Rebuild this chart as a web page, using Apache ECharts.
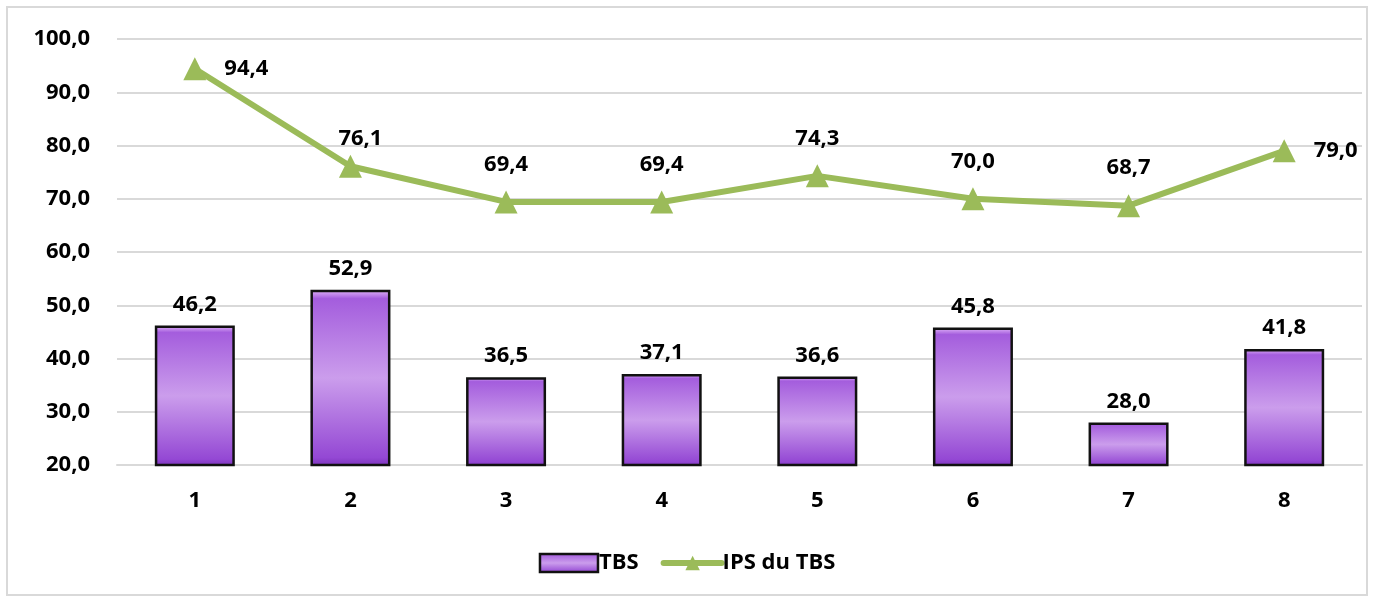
<!DOCTYPE html>
<html>
<head>
<meta charset="utf-8">
<script src="https://cdn.jsdelivr.net/npm/echarts@6/dist/echarts.min.js"></script>
<style>
    html, body { margin: 0; padding: 0; background: #fff; }
    .frame {
        position: absolute;
        left: 6px; top: 6px;
        width: 1362px; height: 590px;
        border: 2px solid #d9d9d9;
        box-sizing: border-box;
    }
    #chart { width: 1374px; height: 602px; }
</style>
</head>
<body>
<div class="frame"></div>
<div id="chart"></div>
<script>
// data
var categories = ['1', '2', '3', '4', '5', '6', '7', '8'];
var tbs = [46.2, 52.9, 36.5, 37.1, 36.6, 45.8, 28.0, 41.8];
var ipsTbs = [94.4, 76.1, 69.4, 69.4, 74.3, 70.0, 68.7, 79.0];

var fmt = function (v) { return v.toFixed(1).replace('.', ','); };
var font = '"Open Sans", Lato, sans-serif';
var green = '#9bbb59';
var fs = 22;

var myCharts = echarts.init(document.getElementById('chart'));
var option = {
    textStyle: { fontFamily: font, color: '#000' },
    animation: false,
    grid: { left: 117, right: 12, top: 39, bottom: 137 },
    legend: {
        bottom: 23,
        left: 'center',
        itemGap: 22,
        itemWidth: 58,
        itemHeight: 18,
        textStyle: { fontSize: fs, fontWeight: 'bold', color: '#000', fontFamily: font, padding: [0, 0, 0, -4] },
        data: [
            { name: 'TBS', icon: 'rect', itemStyle: { borderColor: '#111', borderWidth: 2.5 } },
            { name: 'IPS du TBS', lineStyle: { width: 6, color: green, cap: 'round' } }
        ]
    },
    xAxis: {
        type: 'category',
        data: categories,
        axisLine: { lineStyle: { color: '#d9d9d9', width: 2 } },
        axisTick: { show: false },
        axisLabel: { fontSize: fs, fontWeight: 'bold', color: '#000', margin: 25 }
    },
    yAxis: {
        type: 'value',
        min: 20, max: 100, interval: 10,
        axisLine: { show: false },
        axisTick: { show: false },
        splitLine: { lineStyle: { color: '#d9d9d9', width: 2 } },
        axisLabel: {
            fontSize: fs, fontWeight: 'bold', color: '#000', margin: 27,
            formatter: function (v) { return fmt(v); }
        }
    },
    series: [
        {
            name: 'TBS',
            type: 'bar',
            barWidth: 80,
            data: tbs,
            itemStyle: {
                borderColor: '#111',
                borderWidth: 2.5,
                color: new echarts.graphic.LinearGradient(0, 0, 0, 1, [
                    { offset: 0, color: '#e4b8fa' },
                    { offset: 0.05, color: '#a45ddd' },
                    { offset: 0.5, color: '#cb9dec' },
                    { offset: 0.95, color: '#9448d4' },
                    { offset: 1, color: '#7c34bc' }
                ])
            },
            label: {
                show: true,
                position: 'top',
                distance: 10,
                fontSize: fs,
                fontWeight: 'bold',
                color: '#000',
                formatter: function (p) { return fmt(p.value); }
            }
        },
        {
            name: 'IPS du TBS',
            type: 'line',
            data: ipsTbs.map(function (v, i) {
                var last = i === ipsTbs.length - 1;
                if (i === 0 || last) {
                    return { value: v, label: { position: 'right', distance: 18 } };
                }
                if (i === 1) {
                    return { value: v, label: { position: 'top', distance: 5, offset: [10, 0] } };
                }
                return v;
            }),
            symbol: 'triangle',
            symbolSize: 23,
            lineStyle: { color: green, width: 6 },
            itemStyle: { color: green },
            label: {
                show: true,
                position: 'top',
                distance: 15,
                fontSize: fs,
                fontWeight: 'bold',
                color: '#000',
                formatter: function (p) { return fmt(p.value); }
            }
        }
    ]
};
myCharts.setOption(option);
window.addEventListener('resize', function () {
    myCharts.resize();
});
</script>
</body>
</html>
